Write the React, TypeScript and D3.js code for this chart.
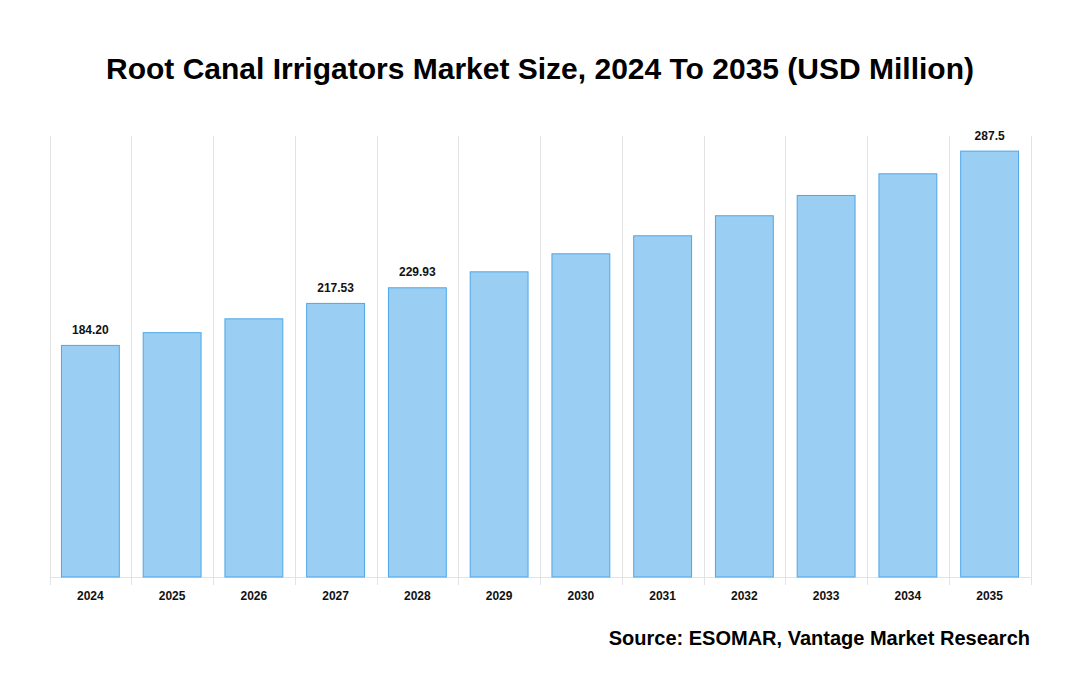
import React from 'react';
import * as d3 from 'd3';

const years = ['2024', '2025', '2026', '2027', '2028', '2029', '2030', '2031', '2032', '2033', '2034', '2035'];
// bar heights
const marketSize = [184.2, 194.3, 205.3, 217.53, 229.93, 242.6, 256.9, 271.2, 287.1, 303.2, 320.4, 338.4];
// value labels printed above some bars (as shown in the source)
const barLabels = ['184.20', '', '', '217.53', '229.93', '', '', '', '', '', '', '287.5'];

const TITLE = 'Root Canal Irrigators Market Size, 2024 To 2035 (USD Million)';
const SOURCE = 'Source: ESOMAR, Vantage Market Research';

const W = 1080;
const H = 700;
const left = 49.5;
const right = 1030.5;
const top = 136;
const bottom = 577;

export default function App() {
  const x = d3.scaleBand<string>()
    .domain(years)
    .range([left, right])
    .paddingInner(0.28)
    .paddingOuter(0.14);

  const y = d3.scaleLinear().domain([0, 350]).range([bottom, top]);

  const step = x.step();
  const edges = years.map((_, i) => left + i * step).concat([right]);

  return (
    <svg width={W} height={H} style={{position: 'absolute', left: 0, top: 0, fontFamily: '"Liberation Sans", Arial, sans-serif'}}>
      <rect width={W} height={H} fill="#fff" />
      <text x={540} y={79} textAnchor="middle" fontSize={30} fontWeight="bold" fill="#000">{TITLE}</text>

      {/* vertical grid lines */}
      {edges.map((ex, i) => (
        <line key={'g' + i} x1={Math.round(ex) + 0.5} x2={Math.round(ex) + 0.5} y1={top} y2={585} stroke="#e3e3e3" strokeWidth={1} />
      ))}
      <line x1={left} x2={right} y1={bottom + 0.5} y2={bottom + 0.5} stroke="#e3e3e3" strokeWidth={1} />

      {marketSize.map((v, i) => {
        const bx = x(years[i])!;
        const by = y(v);
        return (
          <rect key={'b' + i} x={bx + 0.5} y={by + 0.5} width={x.bandwidth() - 1} height={bottom - by - 0.5}
            fill="#9acff3" stroke="#4da6e8" strokeWidth={1} />
        );
      })}

      {barLabels.map((lab, i) => lab ? (
        <text key={'l' + i} x={x(years[i])! + x.bandwidth() / 2} y={y(marketSize[i]) - 11} textAnchor="middle"
          fontSize={12} fontWeight="bold" fill="#111">{lab}</text>
      ) : null)}

      {years.map((yr) => (
        <text key={'t' + yr} x={x(yr)! + x.bandwidth() / 2} y={600} textAnchor="middle" fontSize={12} fontWeight="bold" fill="#111">{yr}</text>
      ))}

      <text x={1030} y={645} textAnchor="end" fontSize={20} fontWeight="bold" fill="#000">{SOURCE}</text>
    </svg>
  );
}
